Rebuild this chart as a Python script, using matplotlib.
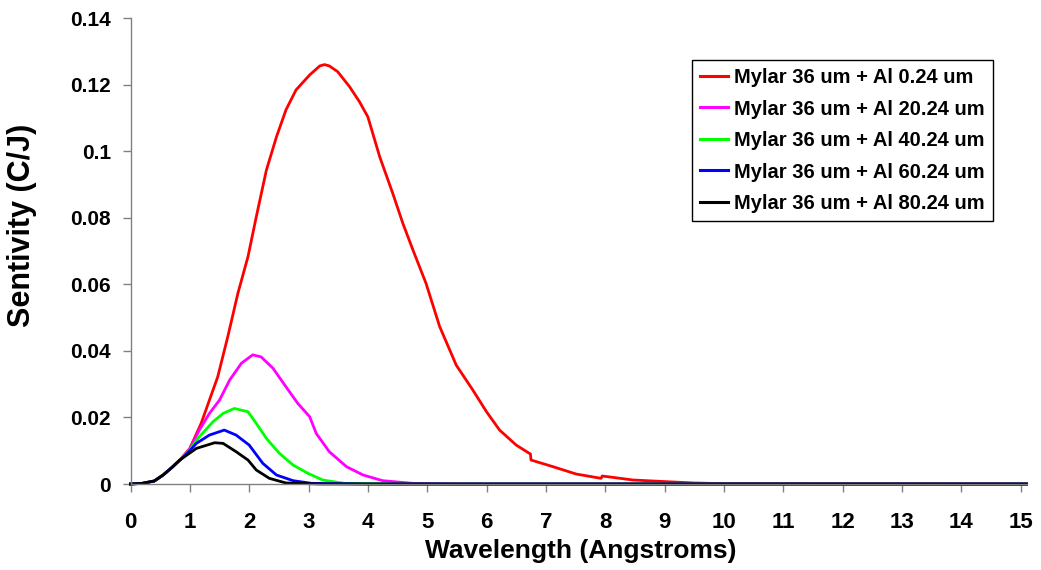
import matplotlib
matplotlib.use("Agg")
import matplotlib.pyplot as plt

plt.rcParams['font.family'] = ['Liberation Sans', 'DejaVu Sans']
plt.rcParams['font.weight'] = 'bold'

# ---- data ----
series_labels = [
    "Mylar 36 um + Al 0.24 um",
    "Mylar 36 um + Al 20.24 um",
    "Mylar 36 um + Al 40.24 um",
    "Mylar 36 um + Al 60.24 um",
    "Mylar 36 um + Al 80.24 um",
]
series_colors = ["#FF0000", "#FF00FF", "#00FF00", "#0000FF", "#000000"]

red_x = [0, 0.2, 0.4, 0.55, 0.7, 0.85, 1.0, 1.19, 1.47, 1.64, 1.81, 1.98, 2.12, 2.29, 2.46,
         2.62, 2.79, 3.02, 3.19, 3.27, 3.35, 3.49, 3.69, 3.86, 4.0, 4.20, 4.42, 4.59, 4.76,
         4.98, 5.21, 5.49, 5.77, 6.0, 6.22, 6.50, 6.74, 6.75, 7.12, 7.51, 7.93, 7.95, 8.47,
         9.03, 9.5, 10.0, 15.1]
red_y = [0, 0.0002, 0.0009, 0.0027, 0.005, 0.0076, 0.0107, 0.0182, 0.0322, 0.0443, 0.0573,
         0.0683, 0.0803, 0.0943, 0.1043, 0.1124, 0.1184, 0.1229, 0.1256, 0.1260, 0.1256,
         0.1239, 0.1194, 0.1148, 0.1103, 0.0983, 0.0873, 0.0783, 0.0703, 0.0603, 0.0473,
         0.0357, 0.0282, 0.0217, 0.0162, 0.0117, 0.0090, 0.0072, 0.0052, 0.0030, 0.0017,
         0.0024, 0.0012, 0.0007, 0.0003, 0.0001, 0]

magenta_x = [0, 0.2, 0.4, 0.55, 0.7, 0.85, 1.0, 1.16, 1.33, 1.5, 1.67, 1.87, 2.06, 2.2, 2.40,
             2.62, 2.82, 3.02, 3.13, 3.35, 3.64, 3.92, 4.25, 4.75, 5.5, 15.1]
magenta_y = [0, 0.0002, 0.0009, 0.0027, 0.005, 0.0075, 0.0105, 0.0162, 0.0212, 0.0252, 0.0312,
             0.0363, 0.0388, 0.0382, 0.0348, 0.0292, 0.0242, 0.0202, 0.0152, 0.0097, 0.0052,
             0.0027, 0.0010, 0.0002, 0, 0]

green_x = [0, 0.2, 0.4, 0.55, 0.7, 0.85, 1.0, 1.16, 1.39, 1.56, 1.75, 1.98, 2.12, 2.29, 2.51,
           2.74, 2.99, 3.24, 3.6, 4.5, 15.1]
green_y = [0, 0.0002, 0.0009, 0.0027, 0.005, 0.0075, 0.0103, 0.0142, 0.0187, 0.0212, 0.0227,
           0.0217, 0.0182, 0.0137, 0.0092, 0.0057, 0.0032, 0.0012, 0.0002, 0, 0]

blue_x = [0, 0.2, 0.4, 0.55, 0.7, 0.85, 1.0, 1.11, 1.33, 1.58, 1.78, 2.0, 2.23, 2.46, 2.74,
          3.05, 4.0, 15.1]
blue_y = [0, 0.0002, 0.0009, 0.0027, 0.005, 0.0074, 0.0100, 0.0122, 0.0147, 0.0162, 0.0147,
          0.0117, 0.0062, 0.0027, 0.0010, 0.0002, 0, 0]

black_x = [0, 0.2, 0.4, 0.55, 0.7, 0.83, 1.11, 1.42, 1.56, 1.78, 1.98, 2.12, 2.34, 2.62, 3.2, 15.1]
black_y = [0, 0.0002, 0.0009, 0.0027, 0.005, 0.0072, 0.0107, 0.0124, 0.0122, 0.0097, 0.0072,
           0.0042, 0.0017, 0.0003, 0, 0]

x_ticks = list(range(0, 16))
y_ticks = [0, 0.02, 0.04, 0.06, 0.08, 0.10, 0.12, 0.14]
y_tick_labels = ["0", "0.02", "0.04", "0.06", "0.08", "0.1", "0.12", "0.14"]

x_title = "Wavelength (Angstroms)"
y_title = "Sentivity (C/J)"

# ---- figure ----
W, H = 1041, 570
fig = plt.figure(figsize=(W / 100, H / 100), dpi=100)
ax = fig.add_axes([130.5 / W, (H - 484) / H, 896 / W, 466 / H])

all_x = [red_x, magenta_x, green_x, blue_x, black_x]
all_y = [red_y, magenta_y, green_y, blue_y, black_y]
for xs, ys, c, lab in zip(all_x, all_y, series_colors, series_labels):
    ax.plot(xs, ys, color=c, lw=2.0, label=lab, solid_joinstyle='round', clip_on=False)

ax.set_xlim(0, 15.1)
ax.set_ylim(0, 0.14)
ax.set_xticks(x_ticks)
ax.set_xticklabels([str(t) for t in x_ticks])
ax.set_yticks(y_ticks)
ax.set_yticklabels(y_tick_labels)

for s in ['top', 'right']:
    ax.spines[s].set_visible(False)
for s in ['left', 'bottom']:
    ax.spines[s].set_color('#808080')
    ax.spines[s].set_linewidth(1.0)

ax.tick_params(axis='x', direction='out', length=6, width=1, color='#808080',
               pad=14, labelsize=16)
ax.tick_params(axis='y', direction='out', length=6, width=1, color='#808080',
               pad=8, labelsize=15)
for lbl in ax.get_xticklabels() + ax.get_yticklabels():
    lbl.set_fontweight('bold')

ax.set_xlabel(x_title, fontsize=19, fontweight='bold')
ax.set_ylabel(y_title, fontsize=22, fontweight='bold')
ax.xaxis.set_label_coords(0.502, -0.118)
ax.yaxis.set_label_coords(-0.104, 0.556)

leg = ax.legend(loc='upper right', bbox_to_anchor=(993 / W, 1 - 60 / H),
                bbox_transform=fig.transFigure, prop={'size': 14.5, 'weight': 'bold'},
                frameon=True, fancybox=False, framealpha=1, edgecolor='black',
                handlelength=1.4, handletextpad=0.3, labelspacing=0.62,
                borderpad=0.4, borderaxespad=0)
leg.get_frame().set_linewidth(1.0)
for h in leg.get_lines():
    h.set_linewidth(2.2)

fig.savefig("out.png", dpi=100)
